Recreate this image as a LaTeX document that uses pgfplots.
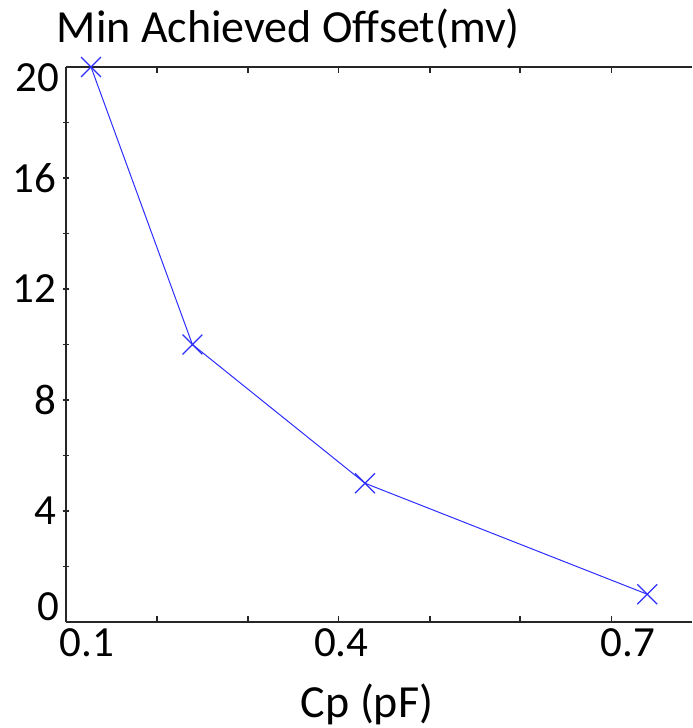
\documentclass[border=0pt]{standalone}
\usepackage{pgfplots}
\pgfplotsset{compat=1.18}
\usepackage{fontspec}
\setmainfont{Carlito}
\definecolor{lineblue}{RGB}{45,45,255}

\begin{document}
\begin{tikzpicture}
\begin{axis}[
    scale only axis,
    width=313pt, height=277.5pt,
    xmin=0.0726, xmax=0.758,
    ymin=0, ymax=20,
    axis x line=box, axis y line=left,
    axis line style={line width=0.9pt, black!85},
    y axis line style={-},
    xtick={0.0726,0.172,0.272,0.371,0.471,0.570,0.670},
    xticklabels={},
    extra x ticks={0.0956,0.374,0.688},
    extra x tick labels={0.1,0.4,0.7},
    extra x tick style={major tick length=0pt},
    ytick={2,4,...,18},
    yticklabels={,4,,8,,12,,16,},
    extra y ticks={0.54,19.62},
    extra y tick labels={0,20},
    extra y tick style={major tick length=0pt},
    major tick length=3pt,
    tick style={line width=0.8pt, black!85},
    tick label style={font=\fontsize{21.5}{25}\selectfont},
    /pgf/number format/assume math mode=true,
    title={Min Achieved Offset(mv)},
    title style={font=\fontsize{23}{27}\selectfont, at={(axis description cs:0.355,1.045)}, anchor=base, yshift=-6pt},
    xlabel={Cp (pF)},
    xlabel style={font=\fontsize{23}{27}\selectfont, at={(axis description cs:0.481,-0.172)}, anchor=base},
    clip=false,
]
\addplot[color=lineblue, line width=0.5pt, mark=x, mark size=7pt, mark options={line width=0.6pt}]
    coordinates {(0.1,20) (0.211,10) (0.4,5) (0.709,1)};
\coordinate (sw) at (rel axis cs:0,0);
\coordinate (ne) at (rel axis cs:1,1);
\end{axis}
\pgfresetboundingbox
\path ([shift={(-33pt,-53pt)}]sw) rectangle ([shift={(0pt,33.5pt)}]ne);
\end{tikzpicture}
\end{document}
